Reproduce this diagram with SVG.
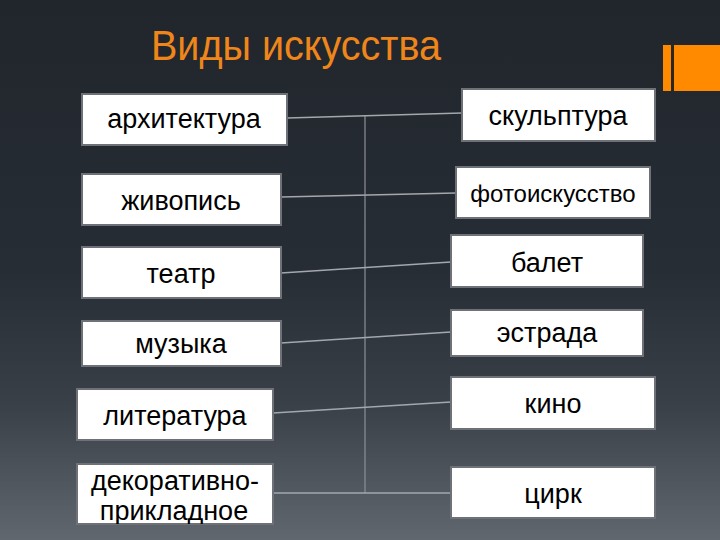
<svg xmlns="http://www.w3.org/2000/svg" width="720" height="540" viewBox="0 0 720 540">
  <defs>
    <linearGradient id="bg" x1="0" y1="0" x2="0" y2="1">
      <stop offset="0" stop-color="#21262d"/>
      <stop offset="0.5" stop-color="#272d34"/>
      <stop offset="0.75" stop-color="#3a4048"/>
      <stop offset="1" stop-color="#60676f"/>
    </linearGradient>
    <clipPath id="clipDeco"><rect x="77" y="464" width="196" height="60"/></clipPath>
    <style>
      .box { fill: #ffffff; stroke: #6e7178; stroke-width: 2; }
      .lbl { font-family: "Liberation Sans", Arial, sans-serif; font-size: 27px; fill: #000000; text-anchor: middle; }
      .conn { stroke: #a3a8ae; stroke-width: 1.6; fill: none; }
      .vert { stroke: #8c9197; stroke-width: 1.2; fill: none; }
      .title { font-family: "Liberation Sans", Arial, sans-serif; font-size: 42px; fill: #f0861a; }
    </style>
  </defs>
  <rect x="0" y="0" width="720" height="540" fill="url(#bg)"/>

  <g id="decor">
    <rect x="663" y="45" width="57" height="46" fill="#ff8a00"/>
    <rect x="671" y="45" width="3" height="46" fill="#2a2620"/>
  </g>

  <g id="title">
    <text class="title" x="151" y="60" textLength="290" lengthAdjust="spacingAndGlyphs">Виды искусства</text>
  </g>

  <g id="connectors">
    <line class="vert" x1="365" y1="116" x2="365" y2="493"/>
    <line class="conn" x1="287" y1="118" x2="462" y2="113"/>
    <line class="conn" x1="281" y1="197" x2="456" y2="193"/>
    <line class="conn" x1="281" y1="273" x2="451" y2="262"/>
    <line class="conn" x1="281" y1="343" x2="451" y2="332"/>
    <line class="conn" x1="273" y1="413" x2="451" y2="402"/>
    <line class="conn" x1="273" y1="493" x2="451" y2="493"/>
  </g>

  <g id="n-arkhitektura">
    <rect class="box" x="82" y="94" width="205" height="51"/>
    <text class="lbl" x="184" y="128">архитектура</text>
  </g>
  <g id="n-zhivopis">
    <rect class="box" x="82" y="174" width="199" height="51"/>
    <text class="lbl" x="181" y="210">живопись</text>
  </g>
  <g id="n-teatr">
    <rect class="box" x="82" y="247" width="199" height="51"/>
    <text class="lbl" x="181" y="283">театр</text>
  </g>
  <g id="n-muzyka">
    <rect class="box" x="82" y="321" width="199" height="45"/>
    <text class="lbl" x="181" y="353">музыка</text>
  </g>
  <g id="n-literatura">
    <rect class="box" x="77" y="389" width="196" height="51"/>
    <text class="lbl" x="175" y="425">литература</text>
  </g>
  <g id="n-dekor">
    <rect class="box" x="77" y="464" width="196" height="60"/>
    <g clip-path="url(#clipDeco)">
      <text class="lbl" x="175" y="490">декоративно-</text>
      <text class="lbl" x="174" y="520">прикладное</text>
    </g>
  </g>

  <g id="n-skulptura">
    <rect class="box" x="462" y="89" width="193" height="52"/>
    <text class="lbl" x="558" y="125">скульптура</text>
  </g>
  <g id="n-foto">
    <rect class="box" x="456" y="167" width="194" height="51"/>
    <text class="lbl" x="553" y="202" style="font-size:24px">фотоискусство</text>
  </g>
  <g id="n-balet">
    <rect class="box" x="451" y="235" width="192" height="52"/>
    <text class="lbl" x="547" y="272">балет</text>
  </g>
  <g id="n-estrada">
    <rect class="box" x="451" y="310" width="192" height="46"/>
    <text class="lbl" x="547" y="342">эстрада</text>
  </g>
  <g id="n-kino">
    <rect class="box" x="451" y="377" width="204" height="52"/>
    <text class="lbl" x="553" y="413">кино</text>
  </g>
  <g id="n-tsirk">
    <rect class="box" x="451" y="467" width="204" height="51"/>
    <text class="lbl" x="553" y="503">цирк</text>
  </g>
</svg>
